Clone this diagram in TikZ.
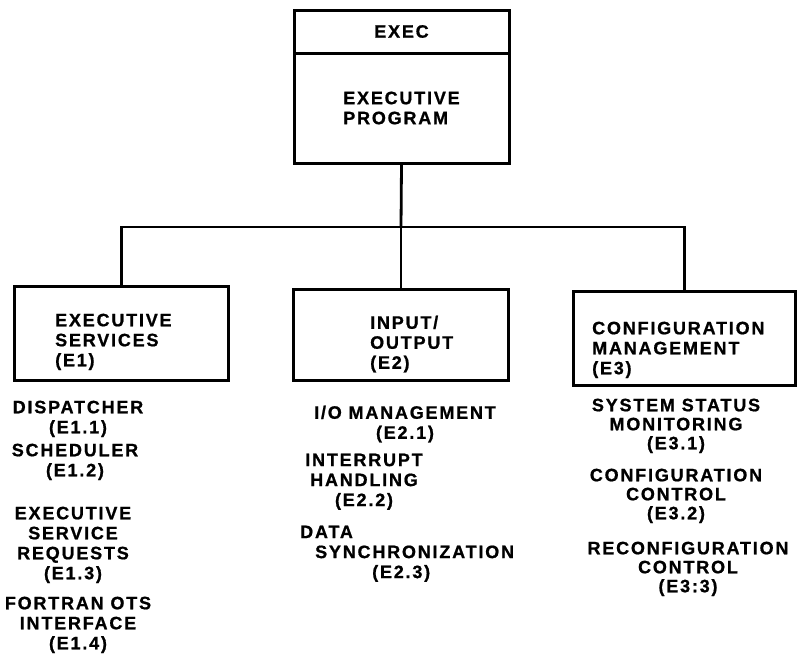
\documentclass[tikz,border=0pt]{standalone}
\usepackage{fontspec}
\setmainfont{Liberation Sans}[LetterSpace=10, BoldFeatures={FakeBold=0.9}]
\begin{document}
\begin{tikzpicture}[x=1pt,y=-1pt,
  lbl/.style={inner sep=0pt, font=\bfseries\fontsize{18}{20}\selectfont},
  box/.style={draw, line width=3pt, inner sep=0pt, lbl},
  item/.style={lbl, align=center, anchor=north},
  tight/.style={font=\bfseries\fontsize{18}{19}\selectfont},
  link/.style={line width=2.8pt}]
\useasboundingbox (0,0) rectangle (799,657);

% executive program block
\node[box, minimum width=215pt, minimum height=43pt] (exec) at (401.5,31.5) {EXEC};
\node[box, minimum width=215pt, minimum height=110pt, align=left] (prog) at (401.5,108) {EXECUTIVE\\PROGRAM};

% the three subsystem boxes
\node[box, minimum width=214pt, minimum height=94pt] (e1) at (121.5,333.5) {};
\node[box, minimum width=215pt, minimum height=91pt] (e2) at (401,335) {};
\node[box, minimum width=222pt, minimum height=94pt] (e3) at (684.5,338.5) {};

\node[lbl, align=left, anchor=north west] (e1t) at (55,313.5) {EXECUTIVE\\SERVICES\\(E1)};
\node[lbl, align=left, anchor=north west] (e2t) at (370,315.5) {INPUT/\\OUTPUT\\(E2)};
\node[lbl, align=left, anchor=north west] (e3t) at (592,321.5) {CONFIGURATION\\MANAGEMENT\\(E3)};

% tree connectors
\coordinate (bus) at (401,227);
\draw[link] (prog.south) -- (bus);
\draw[link] (e1.north) |- (bus) -| (e3.north);
\draw[link] (bus) -- (e2.north);

% functions under E1
\node[item] (d11) at (78,400.5) {DISPATCHER\\(E1.1)};
\node[item] (d12) at (75,443.5) {SCHEDULER\\(E1.2)};
\node[item] (d13) at (73,506.5) {EXECUTIVE\\SERVICE\\REQUESTS\\(E1.3)};
\node[item] (d14) at (78,596.5) {FORTRAN OTS\\INTERFACE\\(E1.4)};

% functions under E2
\node[item] (d21) at (405,405.5) {I/O MANAGEMENT\\(E2.1)};
\node[item] (d22) at (364,453.5) {INTERRUPT\\HANDLING\\(E2.2)};
\node[lbl, align=left, anchor=north west] (d23) at (300,525.5)
  {DATA\\\hspace*{15pt}SYNCHRONIZATION\\\hspace*{72pt}(E2.3)};

% functions under E3
\node[item, tight] (d31) at (676,398.5) {SYSTEM STATUS\\MONITORING\\(E3.1)};
\node[item, tight] (d32) at (676,468.5) {CONFIGURATION\\CONTROL\\(E3.2)};
\node[item, tight] (d33) at (688,541.5) {RECONFIGURATION\\CONTROL\\(E3:3)};
\end{tikzpicture}
\end{document}
